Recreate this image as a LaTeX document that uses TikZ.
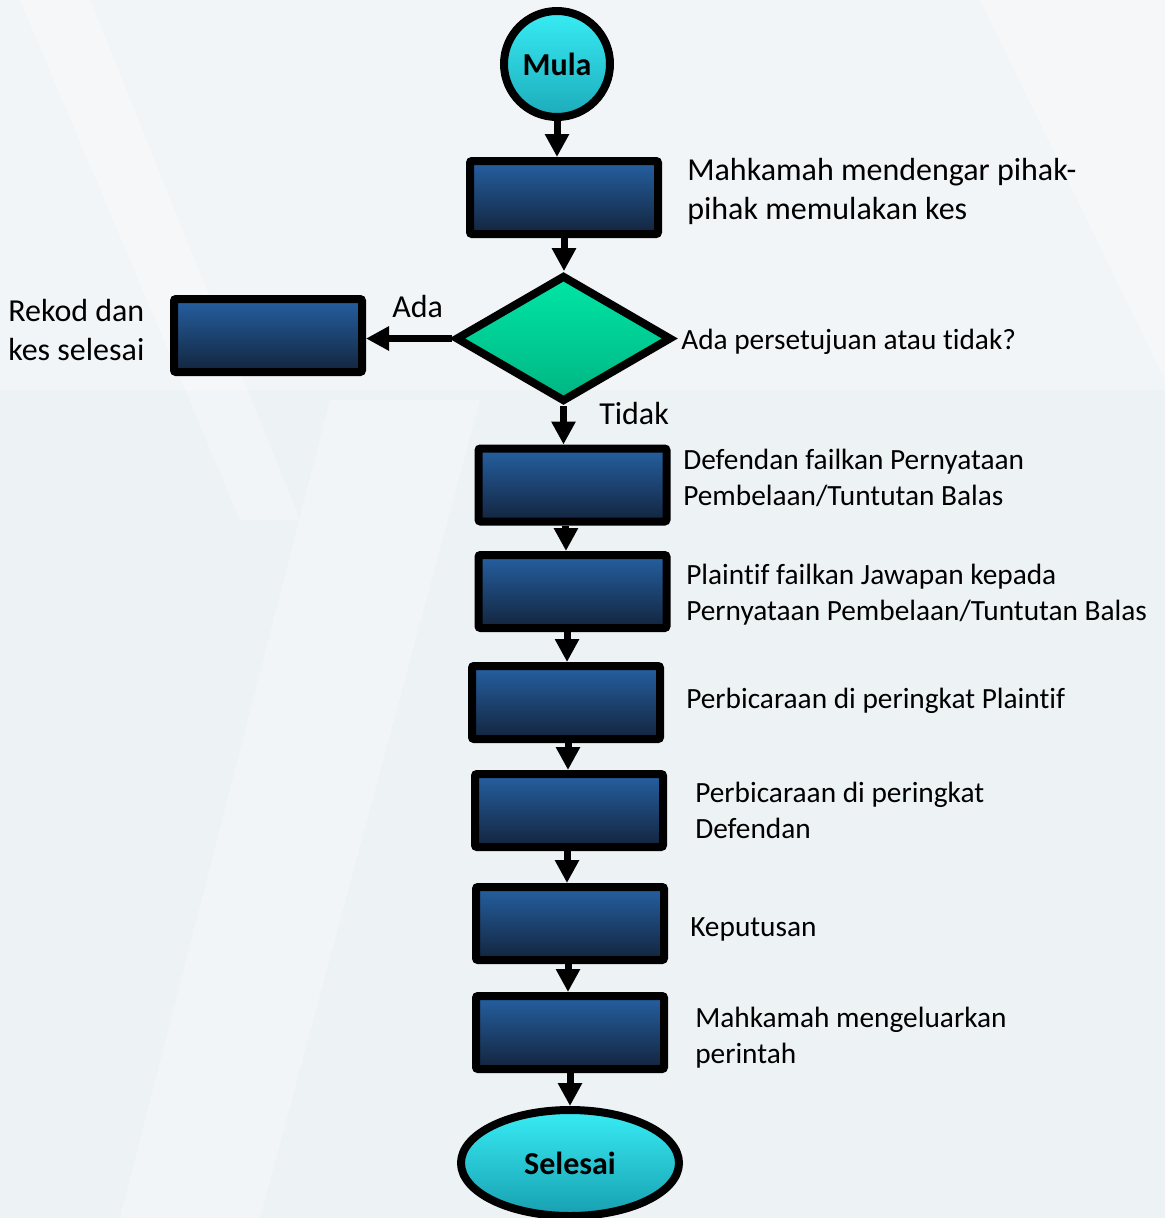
\documentclass[tikz,border=0pt]{standalone}
\usepackage{fontspec}
\setmainfont{Carlito}[Ligatures=NoCommon]
\usetikzlibrary{arrows.meta,shapes.geometric}
\definecolor{bgA}{HTML}{EDF2F5}
\definecolor{boxtop}{HTML}{2560A2}
\definecolor{boxmid}{HTML}{1F4F88}
\definecolor{boxbot}{HTML}{13243D}
\definecolor{cyantop}{HTML}{38EDF5}
\definecolor{cyanbot}{HTML}{179FB0}
\definecolor{greentop}{HTML}{00E6A6}
\definecolor{greenbot}{HTML}{00B582}
\tikzset{
  box/.style={draw=black, line width=6pt, rounded corners=1.5pt, inner sep=0pt,
    minimum width=141pt, minimum height=54.75pt,
    top color=boxtop, middle color=boxmid, bottom color=boxbot},
  startnode/.style={draw=black, line width=6pt, circle, inner sep=0pt, minimum size=79.5pt,
    top color=cyantop, bottom color=cyanbot!85!cyantop, font=\fontsize{24pt}{28pt}\selectfont\bfseries},
  endnode/.style={draw=black, line width=6pt, ellipse, inner sep=0pt,
    minimum width=163.5pt, minimum height=79.5pt,
    top color=cyantop, bottom color=cyanbot, font=\fontsize{24pt}{28pt}\selectfont\bfseries},
  decision/.style={draw=black, line width=6pt, diamond, inner sep=0pt,
    minimum width=162pt, minimum height=95pt,
    top color=greentop, bottom color=greenbot},
  arr/.style={line width=5.25pt, -{Triangle[width=17.25pt,length=17.25pt]}},
  lbig/.style={anchor=west, inner sep=0pt, align=left, font=\fontsize{24pt}{29.25pt}\selectfont},
  lsmall/.style={anchor=west, inner sep=0pt, align=left, font=\fontsize{22pt}{27pt}\selectfont}
}
\begin{document}
\begin{tikzpicture}[x=0.75pt,y=-0.75pt]
\useasboundingbox (0,0) rectangle (1165,1218);
% background
\fill[bgA] (0,0) rectangle (1165,1218);
\fill[white,opacity=0.3] (0,0) rectangle (1165,390);
\fill[white,opacity=0.25] (20,0) -- (90,0) -- (300,520) -- (240,520) -- cycle;
\fill[white,opacity=0.3] (120,1218) -- (330,400) -- (480,400) -- (260,1218) -- cycle;
\fill[white,opacity=0.25] (980,0) -- (1165,0) -- (1165,380) -- cycle;

% nodes
\node[startnode] (mula) at (557,64) {Mula};
\node[box] (b1) at (564,197.5) {};
\node[decision] (dia) at (563.5,338.5) {};
\node[box] (rek) at (268,335.5) {};
\node[box] (b3) at (572.5,485) {};
\node[box] (b4) at (572.5,591.5) {};
\node[box] (b5) at (566,702.5) {};
\node[box] (b6) at (569,810.5) {};
\node[box] (b7) at (570,923.5) {};
\node[box] (b8) at (570,1032.5) {};
\node[endnode] (sel) at (570,1163) {Selesai};

% labels
\node[lbig] (t1) at (687,191.5) {Mahkamah mendengar pihak-\\pihak memulakan kes};
\node[lbig] (trek) at (8,330) {Rekod dan\\kes selesai};
\node[lbig] (tada) at (392,307) {Ada};
\node[lsmall] (tq) at (681,342) {Ada persetujuan atau tidak?};
\node[lbig] (ttidak) at (599,413) {Tidak};
\node[lsmall] (t3) at (683,478) {Defendan failkan Pernyataan\\Pembelaan/Tuntutan Balas};
\node[lsmall] (t4) at (686,594.5) {Plaintif failkan Jawapan kepada\\Pernyataan Pembelaan/Tuntutan Balas};
\node[lsmall] (t5) at (686,701) {Perbicaraan di peringkat Plaintif};
\node[lsmall] (t6) at (695,810.5) {Perbicaraan di peringkat\\Defendan};
\node[lsmall] (t7) at (690,929) {Keputusan};
\node[lsmall] (t8) at (695,1037.5) {Mahkamah mengeluarkan\\perintah};

% connectors
\draw[arr] (mula.south) -- (mula.south |- b1.north);
\draw[arr] (b1.south) -- (b1.south |- dia.north);
\draw[arr] (dia.west) -- (rek.east |- dia.west);
\draw[arr] (dia.south) -- (dia.south |- b3.north);
\draw[arr] ([xshift=-4.9pt]b3.south) -- ([xshift=-4.9pt]b3.south |- b4.north);
\draw[arr] ([xshift=-4.1pt]b4.south) -- ([xshift=-4.1pt]b4.south |- b5.north);
\draw[arr] ([xshift=1.5pt]b5.south) -- ([xshift=1.5pt]b5.south |- b6.north);
\draw[arr] ([xshift=-1.5pt]b6.south) -- ([xshift=-1.5pt]b6.south |- b7.north);
\draw[arr] ([xshift=-1.5pt]b7.south) -- ([xshift=-1.5pt]b7.south |- b8.north);
\draw[arr] (b8.south) -- (b8.south |- sel.north);
\end{tikzpicture}
\end{document}
